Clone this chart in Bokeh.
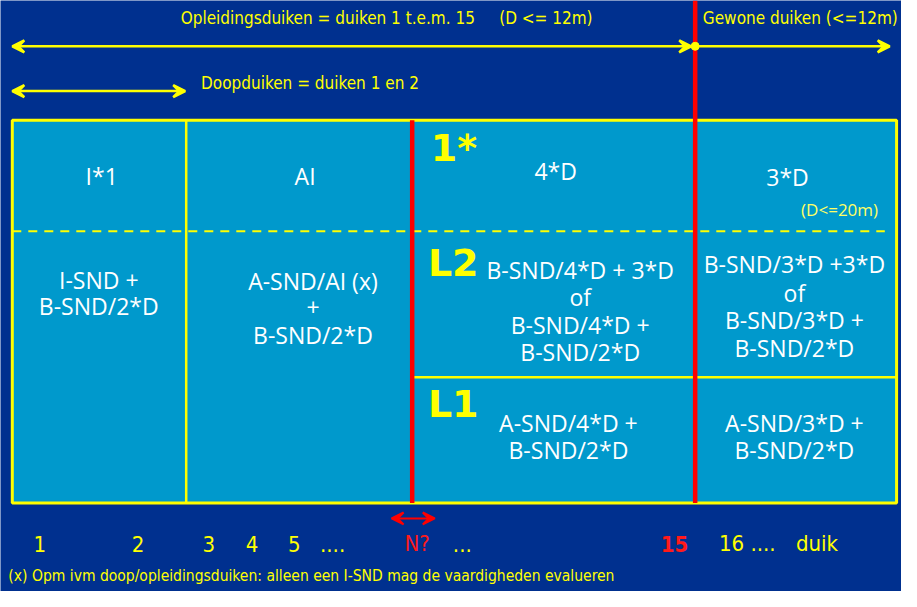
from bokeh.plotting import figure
from bokeh.models import Arrow, VeeHead
from bokeh.core.properties import value
from bokeh.embed import file_html
from bokeh.resources import INLINE

# ---- data (diagram layout in reference-pixel units) ----
col_edges = [12, 189, 419, 707, 912]          # table column boundaries
table_top, table_bottom = 123, 516
dash_row = 237                                 # dashed separator (1* / L2)
l1_row = 387                                   # solid separator (L2 / L1)

cell_labels = ["I*1", "AI", "4*D", "3*D"]
cell_x = [103, 310, 565, 801]
cell_y = [180, 180, 175, 181]

l2_left_lines = ["B-SND/4*D + 3*D", "of", "B-SND/4*D +", "B-SND/2*D"]
l2_right_lines = ["B-SND/3*D +3*D", "of", "B-SND/3*D +", "B-SND/2*D"]
l1_left_lines = ["A-SND/4*D +", "B-SND/2*D"]
l1_right_lines = ["A-SND/3*D +", "B-SND/2*D"]
col1_lines = ["I-SND +", "B-SND/2*D"]
col2_lines = ["A-SND/AI (x)", "+", "B-SND/2*D"]

level_labels = ["1*", "L2", "L1"]
level_x = [438, 435, 435]
level_y = [151, 270, 414]

dive_labels = ["1", "2", "3", "4", "5", "....", "N?", "...", "15", "16 ....", "duik"]
dive_x = [40, 140, 212, 256, 299, 338, 424, 470, 686, 760, 831]
dive_colors = ["#ffff00"] * 6 + ["#ff1a1a", "#ffff00", "#ff1a1a", "#ffff00", "#ffff00"]
dive_styles = ["normal"] * 8 + ["bold", "normal", "normal"]

NB = "\u00a0"
title_top = "Opleidingsduiken = duiken 1 t.e.m. 15" + NB * 5 + "(D <= 12m)"
title_right = "Gewone duiken (<=12m)"
title_doop = "Doopduiken = duiken 1 en 2"
depth_note = "(D<=20m)"
footnote = "(x) Opm ivm doop/opleidingsduiken: alleen een I-SND mag de vaardigheden evalueren"

BG = "#00308f"
CELL = "#0099cc"
YEL = "#ffff00"
RED = "#ff0000"
WHITE = "#ffffff"
FONT_W = "Open Sans"
FONT_Y = "DejaVu Sans Condensed"

p = figure(width=901, height=591, x_range=(0, 917), y_range=(607, 0),
           output_backend="svg", toolbar_location=None, min_border=0,
           background_fill_color=BG, border_fill_color=BG)
p.axis.visible = False
p.grid.visible = False
p.outline_line_color = None

# table background
p.quad(left=[col_edges[0]], right=[col_edges[-1]], top=[table_top], bottom=[table_bottom],
       fill_color=CELL, line_color=YEL, line_width=3)
# inner yellow vertical (col 1/2)
p.segment(x0=[col_edges[1]], y0=[table_top], x1=[col_edges[1]], y1=[table_bottom],
          line_color=YEL, line_width=2.5)
# dashed row separator
p.segment(x0=[col_edges[0]], y0=[dash_row], x1=[900], y1=[dash_row],
          line_color=YEL, line_width=2, line_dash="9 7")
# L1 separator
p.segment(x0=[col_edges[2]], y0=[l1_row], x1=[col_edges[-1]], y1=[l1_row],
          line_color=YEL, line_width=2.5)
# red verticals
p.segment(x0=[col_edges[2]], y0=[table_top], x1=[col_edges[2]], y1=[table_bottom],
          line_color=RED, line_width=4.5)
p.segment(x0=[col_edges[3]], y0=[0], x1=[col_edges[3]], y1=[table_bottom],
          line_color=RED, line_width=4.5)

# arrows
def arrow(x0, x1, y, start=True, end=True, color=YEL, w=2.5):
    kw = dict(x_start=x0, y_start=y, x_end=x1, y_end=y, line_color=color, line_width=w)
    kw["end"] = VeeHead(size=12, line_color=color, fill_color=color, line_width=w) if end else None
    kw["start"] = VeeHead(size=12, line_color=color, fill_color=color, line_width=w) if start else None
    p.add_layout(Arrow(**kw))

arrow(12, 703, 47)
arrow(707, 905, 47, start=False)
p.scatter(x=[col_edges[3]], y=[47], size=8, color=YEL)
arrow(12, 188, 93)
arrow(398, 442, 532, color=RED, w=2)

def txt(x, y, t, color=WHITE, size=20, font=FONT_W, align="center", bold=False):
    p.text(x=x, y=y, text=t, text_color=color, text_font_size=f"{size}px",
           text_font=value(font), text_align=align, text_baseline="middle",
           text_font_style="bold" if bold else "normal")

# headings
txt([393], [18], [title_top], YEL, 17, FONT_Y)
txt([814], [18], [title_right], YEL, 17, FONT_Y)
txt([315], [85], [title_doop], YEL, 17, FONT_Y)

# top cells
txt(cell_x, cell_y, cell_labels, WHITE, 23)
txt([854], [215], [depth_note], "#ffff66", 17, FONT_W)

# multi-line cells
def block(x, ys, lines, size=23):
    txt([x] * len(lines), ys, lines, WHITE, size)

block(100, [287, 314], col1_lines)
block(318, [288, 315, 344], col2_lines)
block(590, [277, 305, 333, 361], l2_left_lines)
block(808, [271, 300, 328, 357], l2_right_lines)
block(578, [434, 462], l1_left_lines)
block(808, [434, 462], l1_right_lines)

# level labels
txt(level_x, level_y, level_labels, YEL, 38, "DejaVu Sans", "left", True)

# dive numbers
p.text(x=dive_x, y=[558] * len(dive_x), text=dive_labels, text_color=dive_colors,
       text_font_size="22px", text_font=value(FONT_Y), text_align="center",
       text_baseline="middle", text_font_style=dive_styles)

# footnote
txt([8], [591], [footnote], YEL, 15.5, FONT_Y, "left")

html = file_html(p, INLINE)
html = html.replace("<body>", "<body style=\"background:#00308f;margin:8px\">", 1)
open("out.html", "w").write(html)
